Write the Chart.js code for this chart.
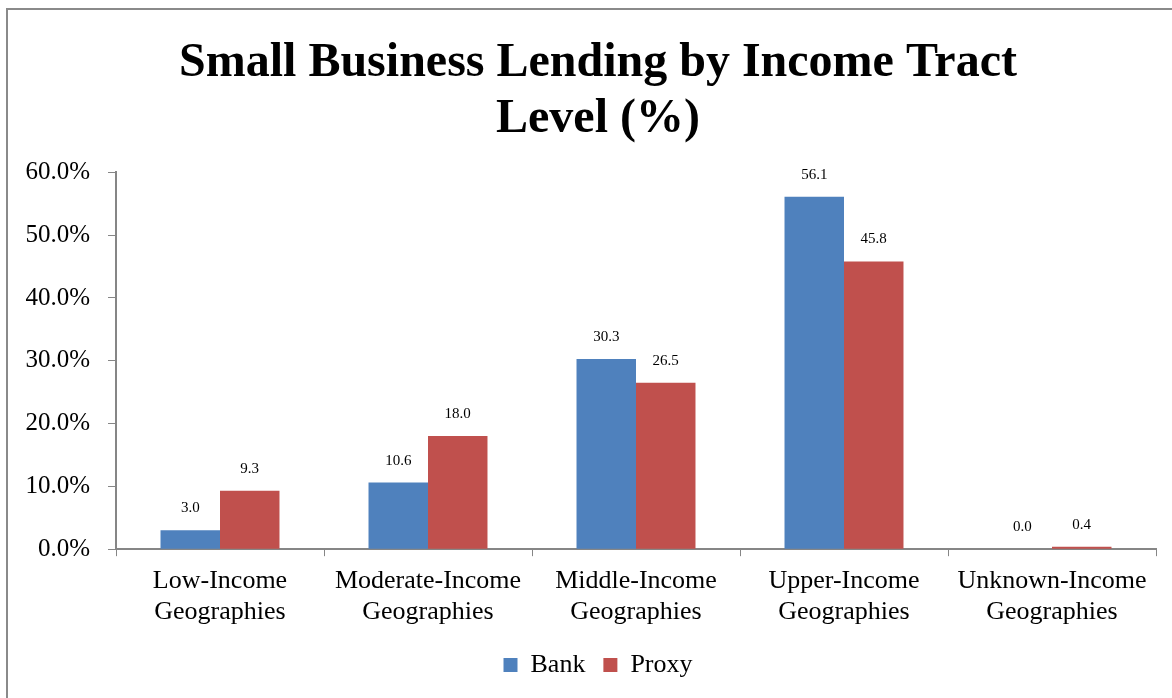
<!DOCTYPE html>
<html>
<head>
<meta charset="utf-8">
<script src="https://cdn.jsdelivr.net/npm/chart.js@4/dist/chart.umd.min.js"></script>
<style>
  html, body { margin: 0; padding: 0; background: #fff; }
  #wrap { width: 1172px; height: 698px; position: relative; }
</style>
</head>
<body>
<div id="wrap"><canvas id="c" width="1172" height="698"></canvas></div>
<script>
const categories = [
  ['Low-Income', 'Geographies'],
  ['Moderate-Income', 'Geographies'],
  ['Middle-Income', 'Geographies'],
  ['Upper-Income', 'Geographies'],
  ['Unknown-Income', 'Geographies']
];
const bankValues = [3.0, 10.6, 30.3, 56.1, 0.0];
const proxyValues = [9.3, 18.0, 26.5, 45.8, 0.4];
const yTicks = [0, 10, 20, 30, 40, 50, 60];

const serif = '"Liberation Serif", "Times New Roman", serif';
const axisGray = '#868686';

// Outer frame of the chart object (left and top edges)
const framePlugin = {
  id: 'frame',
  beforeDraw(chart) {
    const ctx = chart.ctx;
    ctx.save();
    ctx.strokeStyle = '#8a8a8a';
    ctx.lineWidth = 2;
    ctx.beginPath();
    ctx.moveTo(7, 698);
    ctx.lineTo(7, 9);
    ctx.lineTo(1172, 9);
    ctx.stroke();
    ctx.restore();
  }
};

// Title and legend are centred on the frame rather than on the canvas
const centreShift = {
  id: 'centreShift',
  afterLayout(chart) {
    const dx = 20;
    [chart.titleBlock, chart.legend].forEach(box => {
      if (box) { box.left += dx; box.right += dx; }
    });
    if (chart.legend && chart.legend.adjustHitBoxes) chart.legend.adjustHitBoxes();
  }
};

// Value labels above each bar
const valueLabels = {
  id: 'valueLabels',
  afterDatasetsDraw(chart) {
    const ctx = chart.ctx;
    ctx.save();
    ctx.font = '15px ' + serif;
    ctx.fillStyle = '#000';
    ctx.textAlign = 'center';
    ctx.textBaseline = 'middle';
    chart.data.datasets.forEach((ds, i) => {
      chart.getDatasetMeta(i).data.forEach((bar, j) => {
        ctx.fillText(ds.data[j].toFixed(1), bar.x, bar.y - 22);
      });
    });
    ctx.restore();
  }
};

new Chart(document.getElementById('c'), {
  type: 'bar',
  data: {
    labels: categories,
    datasets: [
      { label: 'Bank', data: bankValues, backgroundColor: '#4F81BD' },
      { label: 'Proxy', data: proxyValues, backgroundColor: '#C0504D' }
    ]
  },
  options: {
    responsive: false,
    animation: false,
    layout: { padding: { left: 0, right: 16, top: 8, bottom: 10 } },
    datasets: { bar: { categoryPercentage: 0.572, barPercentage: 1.0 } },
    plugins: {
      title: {
        display: true,
        text: ['Small Business Lending by Income Tract', 'Level (%)'],
        color: '#000',
        font: { family: serif, size: 48, weight: 'bold', lineHeight: 1.16 },
        padding: { top: 28, bottom: 25 }
      },
      legend: {
        position: 'bottom',
        labels: {
          color: '#000',
          font: { family: serif, size: 26 },
          boxWidth: 14,
          boxHeight: 14,
          padding: 18
        }
      },
      tooltip: { enabled: false }
    },
    scales: {
      x: {
        afterFit(scale) { scale.height -= 3; },
        grid: {
          offset: true,
          drawOnChartArea: false,
          drawTicks: true,
          tickLength: 7,
          color: axisGray
        },
        border: { color: axisGray, width: 2 },
        ticks: {
          color: '#000',
          font: { family: serif, size: 26, lineHeight: 1.17 },
          padding: 10,
          maxRotation: 0
        }
      },
      y: {
        min: 0,
        max: 60,
        afterFit(scale) { scale.width = 116; },
        afterBuildTicks(scale) { scale.ticks = yTicks.map(v => ({ value: v })); },
        grid: {
          drawOnChartArea: false,
          drawTicks: true,
          tickLength: 8,
          color: axisGray
        },
        border: { color: axisGray, width: 2 },
        ticks: {
          color: '#000',
          font: { family: serif, size: 25 },
          padding: 18,
          callback: v => v.toFixed(1) + '%'
        }
      }
    }
  },
  plugins: [framePlugin, centreShift, valueLabels]
});
</script>
</body>
</html>
